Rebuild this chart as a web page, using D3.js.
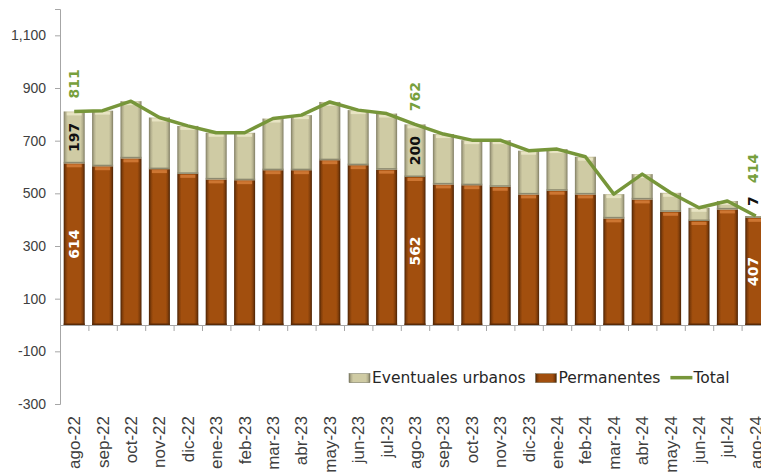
<!DOCTYPE html>
<html>
<head>
<meta charset="utf-8">
<script src="https://cdn.jsdelivr.net/npm/d3@7"></script>
<style>
  body { margin: 0; background: #fff; }
  svg { display: block; font-family: "DejaVu Sans", sans-serif; }
</style>
</head>
<body>
<div></div>
<script>
// months on the x axis
const months = ['ago-22', 'sep-22', 'oct-22', 'nov-22', 'dic-22', 'ene-23', 'feb-23', 'mar-23', 'abr-23',
    'may-23', 'jun-23', 'jul-23', 'ago-23', 'sep-23', 'oct-23', 'nov-23', 'dic-23', 'ene-24', 'feb-24',
    'mar-24', 'abr-24', 'may-24', 'jun-24', 'jul-24', 'ago-24'];
const permanentes = [614, 603, 633, 592, 574, 553, 550, 588, 588, 626, 607, 590, 562, 534, 531, 525, 496, 510,
    496, 405, 477, 430, 395, 439, 407];
const eventuales = [197, 211, 217, 196, 182, 177, 180, 196, 209, 221, 209, 213, 200, 191, 171, 177, 166, 158,
    143, 92, 96, 72, 50, 32, 7];
const total = [811, 814, 850, 788, 756, 730, 730, 784, 797, 847, 816, 803, 762, 725, 702, 702, 662, 668,
    639, 497, 573, 502, 445, 471, 414];
const labelled = ['ago-22', 'ago-23', 'ago-24'];
const yTicks = [-300, -100, 100, 300, 500, 700, 900, 1100];

const svgWidth = 761,
    svgHeight = 475,
    plotLeft = 60,
    plotRight = 770,
    plotTop = 9,
    plotBottom = 404;

const svg = d3.select('body')
    .select('div')
    .append('svg')
    .attr('width', svgWidth)
    .attr('height', svgHeight);

const defs = svg.append('defs');
const bevel = (id, edge, mid, body) => {
    const g = defs.append('linearGradient').attr('id', id);
    [[0, edge], [0.1, mid], [0.2, body], [0.8, body], [0.9, mid], [1, edge]]
        .forEach(s => g.append('stop').attr('offset', s[0]).attr('stop-color', s[1]));
};
bevel('gPerm', '#4a2204', '#843f0a', '#A24F0E');
bevel('gEvt', '#807d63', '#b4b08e', '#CFCBA4');

const xScale = d3.scaleBand()
    .domain(months)
    .range([plotLeft, plotRight])
    .paddingInner(0.26)
    .paddingOuter(0.13);

const yScale = d3.scaleLinear()
    .domain([-300, 1200])
    .range([plotBottom, plotTop]);

// y axis
const fmt = d3.format(',');
const yAxis = svg.append('g')
    .attr('transform', `translate(${plotLeft}, 0)`)
    .call(d3.axisLeft(yScale).tickValues(yTicks).tickSize(5).tickPadding(9)
        .tickFormat(d => fmt(d).replace('\u2212', '-')));
yAxis.select('.domain').attr('stroke', '#a6a6a6');
yAxis.selectAll('.tick line').attr('stroke', '#a6a6a6');
yAxis.selectAll('text').attr('fill', '#404040').style('font-size', '14px');

// stacked bars
const layers = [
    { name: 'Permanentes', values: permanentes, fill: 'url(#gPerm)', cap: '#D8803C', edge: '#5a2a06' },
    { name: 'Eventuales urbanos', values: eventuales, fill: 'url(#gEvt)', cap: '#EDEACB', edge: '#8d8a70' }
];
const bw = xScale.bandwidth();
months.forEach((m, i) => {
    let base = 0;
    layers.forEach(l => {
        const v = l.values[i];
        const y0 = yScale(base), y1 = yScale(base + v);
        const g = svg.append('g');
        g.append('rect')
            .attr('x', xScale(m))
            .attr('y', y1)
            .attr('width', bw)
            .attr('height', y0 - y1)
            .attr('fill', l.fill);
        g.append('rect')
            .attr('x', xScale(m) + 3)
            .attr('y', y1 + 1)
            .attr('width', bw - 6)
            .attr('height', Math.min(3, Math.max(0, y0 - y1 - 2)))
            .attr('fill', l.cap)
            .attr('opacity', 0.8);
        g.append('rect')
            .attr('x', xScale(m))
            .attr('y', y0 - 1.5)
            .attr('width', bw)
            .attr('height', Math.min(1.5, y0 - y1))
            .attr('fill', l.edge);
        base += v;
    });
});

// x axis: tick marks at category boundaries, labels at centers
const xTicks = svg.append('g')
    .attr('transform', `translate(0, ${yScale(0)})`)
    .call(d3.axisBottom(d3.scaleLinear().domain([0, months.length]).range([plotLeft, plotRight]))
        .tickValues(d3.range(1, months.length + 1)).tickSize(6).tickFormat(''));
xTicks.select('.domain').attr('stroke', '#a6a6a6');
xTicks.selectAll('.tick line').attr('stroke', '#a6a6a6');

const xAxis = svg.append('g')
    .attr('transform', `translate(0, ${yScale(0)})`)
    .call(d3.axisBottom(xScale).tickSize(0));
xAxis.select('.domain').remove();
xAxis.selectAll('text')
    .attr('transform', 'rotate(-90)')
    .attr('x', -(plotBottom + 12 - yScale(0)))
    .attr('y', 0)
    .attr('dy', '0.35em')
    .attr('text-anchor', 'end')
    .attr('fill', '#404040')
    .style('font-size', '17px');

// total line
const line = d3.line()
    .x((d, i) => xScale(months[i]) + bw / 2)
    .y(d => yScale(d));
svg.append('path')
    .datum(total)
    .attr('d', line)
    .attr('fill', 'none')
    .attr('stroke', '#77963A')
    .attr('stroke-width', 3.5)
    .attr('stroke-linejoin', 'round');

// data labels
const vlabel = (cx, cy, text, color, anchor) => svg.append('text')
    .attr('transform', `translate(${Math.min(cx, svgWidth - 8)}, ${cy}) rotate(-90)`)
    .attr('dy', '0.36em')
    .attr('text-anchor', anchor)
    .attr('fill', color)
    .style('font-size', '14px')
    .style('font-weight', 'bold')
    .text(text);

labelled.forEach(m => {
    const i = months.indexOf(m);
    const cx = xScale(m) + bw / 2;
    vlabel(cx, yScale(permanentes[i] / 2), permanentes[i], '#fff', 'middle');
    let totalGap = 13;
    if (eventuales[i] >= 40) {
        vlabel(cx, yScale(permanentes[i] + eventuales[i] / 2), eventuales[i], '#111', 'middle');
    } else {
        vlabel(cx, yScale(total[i]) - 10, eventuales[i], '#111', 'start');
        totalGap = 33;
    }
    vlabel(cx, yScale(total[i]) - totalGap, total[i], '#77A03D', 'start');
});

// legend
const legend = svg.append('g').attr('transform', `translate(349, ${yScale(-200)})`);
let lx = 0;
[layers[1], layers[0], { name: 'Total' }].forEach(l => {
    if (l.fill) {
        legend.append('rect').attr('x', lx).attr('y', -4).attr('width', 21).attr('height', 9)
            .attr('fill', l.fill).attr('stroke', '#6b6b55').attr('stroke-width', 0.5);
    } else {
        legend.append('line').attr('x1', lx).attr('x2', lx + 22).attr('y1', 0).attr('y2', 0)
            .attr('stroke', '#77963A').attr('stroke-width', 3.5);
    }
    const t = legend.append('text')
        .attr('x', lx + 23)
        .attr('dy', '0.36em')
        .attr('fill', '#262626')
        .style('font-size', '15.5px')
        .text(l.name);
    lx += 23 + t.node().getComputedTextLength() + 10;
});
</script>
</body>
</html>
